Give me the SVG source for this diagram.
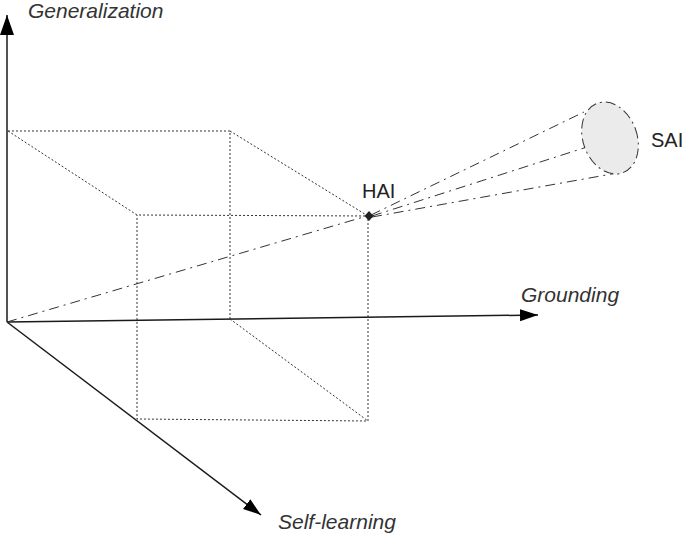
<svg xmlns="http://www.w3.org/2000/svg" width="685" height="540" viewBox="0 0 685 540">
<style>
.lbl{font-family:"Liberation Sans",Arial,sans-serif;font-size:21px;font-style:italic;fill:#333}
.nl{font-family:"Liberation Sans",Arial,sans-serif;font-size:20px;fill:#222}
.axis{stroke:#1a1a1a;stroke-width:1.5;fill:none}
.dot{stroke:#333;stroke-width:1;fill:none;stroke-dasharray:2,2}
.dd{stroke:#333;stroke-width:1;fill:none;stroke-dasharray:10,5,2,5}
</style>
<defs>
<marker id="ah" markerUnits="userSpaceOnUse" markerWidth="20" markerHeight="14" refX="18" refY="6" orient="auto">
<path d="M0,0 L18,6 L0,12 z" fill="#000"/>
</marker>
<marker id="ahv" markerUnits="userSpaceOnUse" markerWidth="22" markerHeight="16" refX="20" refY="7" orient="auto">
<path d="M0,0 L20,7 L0,14 z" fill="#000"/>
</marker>
</defs>
<g id="connectors">
<line class="axis" x1="7" y1="322" x2="7" y2="15" stroke-width="2" marker-end="url(#ahv)"/>
<line class="axis" x1="7" y1="322" x2="538" y2="315" marker-end="url(#ah)"/>
<line class="axis" x1="7" y1="322" x2="261" y2="515" marker-end="url(#ah)"/>
<line class="dd" x1="7" y1="322" x2="367" y2="216"/>
<line class="dd" x1="371" y1="215" x2="584" y2="112"/>
<line class="dd" x1="372" y1="216" x2="587" y2="147"/>
<line class="dd" x1="372" y1="217" x2="623" y2="172"/>
</g>
<g id="cube">
<path class="dot" d="M8,131 L230,131 L230,319"/>
<path class="dot" d="M8,131 L137,215 L368,216 L368,421 L137,419 L137,215"/>
<line class="dot" x1="230" y1="131" x2="368" y2="216"/>
<line class="dot" x1="230" y1="319" x2="368" y2="421"/>
</g>
<g id="SAI">
<ellipse cx="610" cy="138" rx="27" ry="37" transform="rotate(-20 610 138)" fill="#ebebeb" stroke="#333" stroke-width="1" stroke-dasharray="10,4,2,4"/>
<text class="nl" x="651" y="147">SAI</text>
</g>
<g id="HAI">
<path d="M369,211 L373.5,216 L369,221 L364.5,216 Z" fill="#222"/>
<text class="nl" x="362" y="198">HAI</text>
</g>
<g id="labels">
<text class="lbl" x="28" y="18">Generalization</text>
<text class="lbl" x="521" y="302">Grounding</text>
<text class="lbl" x="278" y="529">Self-learning</text>
</g>
</svg>
